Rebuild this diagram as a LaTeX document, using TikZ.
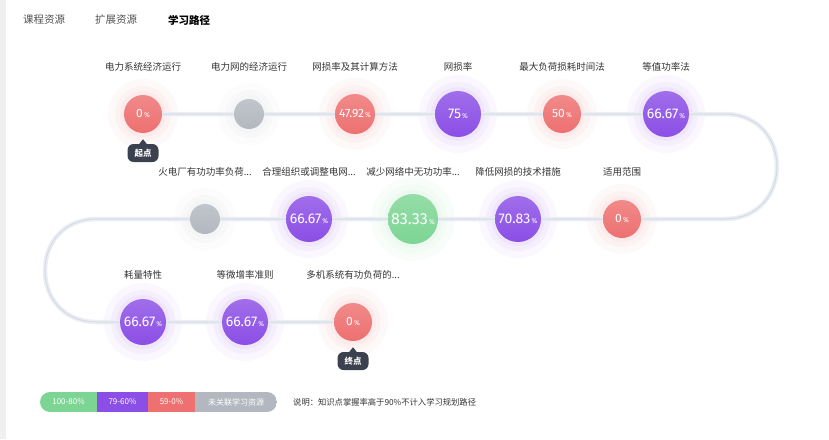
\documentclass[tikz,border=0pt]{standalone}
\usepackage{fontspec}
\setmainfont{Noto Sans CJK SC}
\newfontfamily\numf{Fira Sans}
\usetikzlibrary{shapes.misc}
\definecolor{cred}{HTML}{EE7070}
\definecolor{cpur}{HTML}{8B4EE6}
\definecolor{cgrn}{HTML}{7DD594}
\definecolor{cgry}{HTML}{B3B8C0}
\definecolor{cdark}{HTML}{3C4150}
\definecolor{ctxt}{HTML}{333333}
\definecolor{ctrk}{HTML}{EAEEF4}
\definecolor{ctrkc}{HTML}{D5DBE4}
\pgfdeclarelayer{glow}
\pgfdeclarelayer{trk}
\pgfsetlayers{glow,trk,main}
\tikzset{
  ball/.style={circle, inner sep=0pt, text=white},
  lbl/.style={text=ctxt, font=\fontsize{9.5}{10}\selectfont, inner sep=0pt},
  tab/.style={text=ctxt!85!white, font=\fontsize{10.5}{11}\selectfont, inner sep=0pt},
  trackouter/.style={draw=ctrk, line width=4.5pt},
  trackinner/.style={draw=ctrkc, line width=1pt},
  badge/.style={fill=cdark, text=white, rounded corners=6pt, minimum width=31pt, minimum height=18pt, inner sep=0pt, font=\fontsize{8.5}{9}\selectfont\bfseries},
  legtxt/.style={text=white, font=\fontsize{8}{8}\selectfont, inner sep=0pt},
  note/.style={text=ctxt, font=\fontsize{8.3}{9}\selectfont, inner sep=0pt, anchor=west}
}
\newcommand{\pctv}[2]{{\numf\fontsize{#1}{#1}\selectfont #2{\fontsize{7}{7}\selectfont\,\%}}}
\newcommand{\kpnode}[8]{%
  \begin{pgfonlayer}{glow}
    \fill[#4, opacity=0.045] (#2,#3) circle[radius=#6];
    \fill[#4, opacity=0.055] (#2,#3) circle[radius={(#5+#6)/2+1}];
    \fill[#4, opacity=0.05] (#2,#3) circle[radius={#5+4}];
  \end{pgfonlayer}
  \node[ball, top color=#4!82!white, bottom color=#4, minimum size={2*#5}] (#1) at (#2,#3) {#7};
  \node[lbl] (#1l) at (#2,#3-47) {#8};
}
\begin{document}
\begin{tikzpicture}[x=1pt,y=-1pt]
\useasboundingbox (0,0) rectangle (829,439);
\fill[black!6] (0,0) rectangle (6,439);

% tabs
\node[tab] (t1) at (44,20) {课程资源};
\node[tab] (t2) at (116,20) {扩展资源};
\node[tab, text=black, font=\fontsize{10.5}{11}\selectfont\bfseries] (t3) at (189,20) {学习路径};

% row 1
\kpnode{n1}{143}{114}{cred}{19}{35}{\pctv{12}{0}}{电力系统经济运行}
\kpnode{n2}{249}{114}{cgry}{15}{31}{}{电力网的经济运行}
\kpnode{n3}{355}{114}{cred}{20}{36}{\pctv{12}{47.92}}{网损率及其计算方法}
\kpnode{n4}{458}{114}{cpur}{23}{39}{\pctv{14}{75}}{网损率}
\kpnode{n5}{562}{114}{cred}{19}{35}{\pctv{12}{50}}{最大负荷损耗时间法}
\kpnode{n6}{666}{114}{cpur}{23}{39}{\pctv{14}{66.67}}{等值功率法}
% row 2
\kpnode{n7}{622}{219}{cred}{19}{35}{\pctv{12}{0}}{适用范围}
\kpnode{n8}{518}{219}{cpur}{23}{39}{\pctv{14}{70.83}}{降低网损的技术措施}
\kpnode{n9}{413}{219}{cgrn}{25}{42}{\pctv{16}{83.33}}{减少网络中无功功率...}
\kpnode{n10}{309}{219}{cpur}{23}{39}{\pctv{14}{66.67}}{合理组织或调整电网...}
\kpnode{n11}{205}{219}{cgry}{15}{31}{}{火电厂有功功率负荷...}
% row 3
\kpnode{n12}{143}{322}{cpur}{23}{39}{\pctv{14}{66.67}}{耗量特性}
\kpnode{n13}{245}{322}{cpur}{23}{39}{\pctv{14}{66.67}}{等微增率准则}
\kpnode{n14}{353}{322}{cred}{19}{35}{\pctv{12}{0}}{多机系统有功负荷的...}

% track
\coordinate (r1) at (724.5,114);
\coordinate (r2) at (724.5,219);
\coordinate (l1) at (96.5,219);
\coordinate (l2) at (96.5,322);
\begin{pgfonlayer}{trk}
\foreach \st in {trackouter,trackinner}{
  \draw[\st] (n1.center) -- (r1) .. controls (794.5,114) and (794.5,219) .. (r2) -- (n7.center) -- (l1)
     .. controls (27.8,219) and (27.8,322) .. (l2) -- (n14.center);
}
\end{pgfonlayer}

% badges
\node[badge] (s) at (143,153) {起点};
\fill[cdark] ([xshift=-4.5pt,yshift=-1pt]s.north) -- ++(4.5,-5.5) -- ([xshift=4.5pt,yshift=-1pt]s.north) -- cycle;
\node[badge] (e) at (353,361) {终点};
\fill[cdark] ([xshift=-4.5pt,yshift=-1pt]e.north) -- ++(4.5,-5.5) -- ([xshift=4.5pt,yshift=-1pt]e.north) -- cycle;

% legend
\begin{scope}
\clip[rounded corners=10pt] (40,392) rectangle (277,412);
\fill[cgrn] (40,392) rectangle (97,412);
\fill[cpur] (97,392) rectangle (148,412);
\fill[cred] (148,392) rectangle (195,412);
\fill[cgry] (195,392) rectangle (277,412);
\end{scope}
\node[legtxt] (g1) at (68.5,402) {100-80\%};
\node[legtxt] (g2) at (122.5,402) {79-60\%};
\node[legtxt] (g3) at (171.5,402) {59-0\%};
\node[legtxt] (g4) at (236,402) {未关联学习资源};
\node[note] (nt) at (293,402) {说明：知识点掌握率高于90\%不计入学习规划路径};
\end{tikzpicture}
\end{document}
